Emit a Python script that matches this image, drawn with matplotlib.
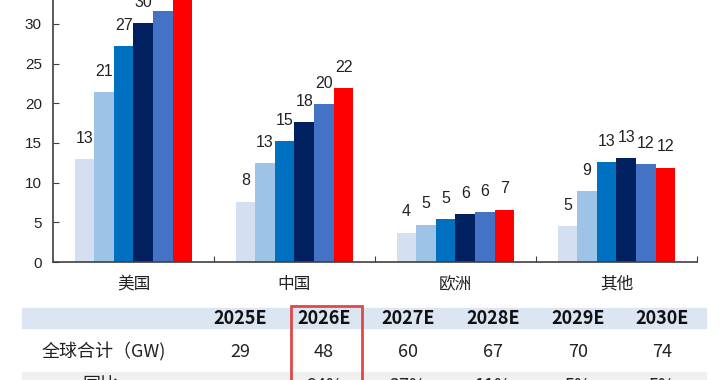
import matplotlib
matplotlib.use("Agg")
import matplotlib.pyplot as plt
from matplotlib.patches import Rectangle
import numpy as np

plt.rcParams["font.family"] = ["Liberation Sans", "Noto Sans CJK SC", "DejaVu Sans"]
CJK = ["Noto Sans CJK SC", "DejaVu Sans"]

# chart data (GW), one list per year, ordered by region
regions = ["美国", "中国", "欧洲", "其他"]
years = ["2025E", "2026E", "2027E", "2028E", "2029E", "2030E"]
vals_2025 = [13.0, 7.6, 3.7, 4.5]
vals_2026 = [21.4, 12.5, 4.7, 8.9]
vals_2027 = [27.2, 15.2, 5.4, 12.6]
vals_2028 = [30.1, 17.6, 6.0, 13.1]
vals_2029 = [31.6, 19.9, 6.3, 12.3]
vals_2030 = [34.0, 21.9, 6.6, 11.9]
labels_2025 = ["13", "8", "4", "5"]
labels_2026 = ["21", "13", "5", "9"]
labels_2027 = ["27", "15", "5", "13"]
labels_2028 = ["30", "18", "6", "13"]
labels_2029 = ["32", "20", "6", "12"]
labels_2030 = ["34", "22", "7", "12"]

# table below the chart
row_total_name = "全球合计（GW)"
row_total = ["29", "48", "60", "67", "70", "74"]
row_yoy_name = "同比"
row_yoy = ["", "64%", "27%", "11%", "5%", "5%"]

COLORS = ["#d5dff2", "#9dc3e6", "#0070c0", "#002060", "#4472c4", "#ff0000"]
series = [vals_2025, vals_2026, vals_2027, vals_2028, vals_2029, vals_2030]
series_labels = [labels_2025, labels_2026, labels_2027, labels_2028,
                 labels_2029, labels_2030]

fig = plt.figure(figsize=(7.2, 3.8), dpi=100)
ax = fig.add_axes([0.0736, 0.3105, 0.8944, 0.6895])

x = np.arange(len(regions))
w = 0.122
for i, (vals, labs, c) in enumerate(zip(series, series_labels, COLORS)):
    xs = x + (i - 2.5) * w
    ax.bar(xs, vals, width=w, color=c, linewidth=0, zorder=2)
    # labels sit ~14 px above each bar
    for xv, yv, lab in zip(xs, vals, labs):
        ax.annotate(lab, (xv, yv), textcoords="offset points", xytext=(0, 9.5),
                    ha="center", va="bottom", fontsize=11.5, color="#222222",
                    annotation_clip=False)

ax.set_xlim(-0.5, 3.5)
ax.set_ylim(0, 33.0)
ax.set_yticks(np.arange(0, 31, 5))
ax.tick_params(axis="y", direction="in", length=4, labelsize=11,
               labelcolor="#222222", color="#404040", pad=8)
ax.set_xticks([0.5, 1.5, 2.5, 3.5])
ax.set_xticklabels([])
ax.tick_params(axis="x", direction="in", length=4, color="#404040")
ax.set_xticks(x, minor=True)
ax.set_xticklabels(regions, minor=True, fontsize=12, color="#222222", family=CJK)
ax.tick_params(axis="x", which="minor", length=0, pad=10)
for s in ["top", "right"]:
    ax.spines[s].set_visible(False)
for s in ["left", "bottom"]:
    ax.spines[s].set_color("#404040")
    ax.spines[s].set_linewidth(1.2)

# table
def fx(px):
    return px / 720.0


def fy(py):
    return (380.0 - py) / 380.0


fig.patches.append(Rectangle((fx(22), fy(328)), fx(706) - fx(22), fy(308) - fy(328),
                             transform=fig.transFigure, color="#dce6f2", zorder=0))
fig.patches.append(Rectangle((fx(22), fy(395)), fx(706) - fx(22), fy(372) - fy(395),
                             transform=fig.transFigure, color="#f0f0f0", zorder=0))

col_x = [240, 324, 408, 493, 578, 662]
for cx, yr, tot, yoy in zip(col_x, years, row_total, row_yoy):
    fig.text(fx(cx), fy(319), yr, ha="center", va="center", fontsize=13,
             fontweight="bold", color="#111111", family=CJK)
    fig.text(fx(cx), fy(352), tot, ha="center", va="center", fontsize=13,
             color="#222222", family=CJK)
    fig.text(fx(cx), fy(386), yoy, ha="center", va="center", fontsize=13,
             color="#222222", family=CJK)
fig.text(fx(104), fy(352), row_total_name, ha="center", va="center", fontsize=13,
         color="#222222", family=CJK)
fig.text(fx(100), fy(386), row_yoy_name, ha="center", va="center", fontsize=13,
         color="#222222", family=CJK)

fig.patches.append(Rectangle((fx(291), fy(400)), fx(362) - fx(291), fy(306) - fy(400),
                             transform=fig.transFigure, fill=False,
                             edgecolor="#e04848", linewidth=2, zorder=5))

fig.savefig("out.png", dpi=100, facecolor="white")
